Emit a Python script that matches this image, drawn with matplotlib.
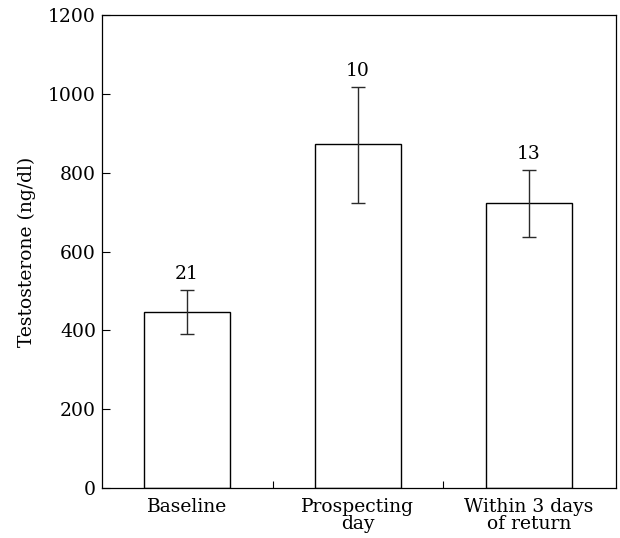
import matplotlib
matplotlib.use("Agg")
import matplotlib.pyplot as plt
from matplotlib.ticker import FixedLocator

categories = ["Baseline", "Prospecting\nday", "Within 3 days\nof return"]
means = [447, 873, 723]
err_upper = [502, 1018, 808]
err_lower = [391, 724, 638]
sample_sizes = ["21", "10", "13"]
yticks = [0, 200, 400, 600, 800, 1000, 1200]

plt.rcParams["font.family"] = ["DejaVu Serif"]
plt.rcParams["font.size"] = 13.5

fig = plt.figure(figsize=(6.2, 5.38), dpi=100)
ax = fig.add_axes([0.164, 0.093, 0.8295, 0.8787])

x = list(range(len(categories)))
yerr = [[m - lo for m, lo in zip(means, err_lower)],
        [hi - m for m, hi in zip(means, err_upper)]]
ax.bar(x, means, width=0.5, color="white", edgecolor="black", linewidth=1.0, zorder=2)
ax.errorbar(x, means, yerr=yerr, fmt="none", ecolor="#2a2a2a", elinewidth=1.0,
            capsize=5, capthick=1.0, zorder=3)
for xi, hi, s in zip(x, err_upper, sample_sizes):
    ax.annotate(s, (xi, hi), xytext=(0, 5), textcoords="offset points",
                ha="center", va="bottom", fontsize=13.5)

ax.set_xlim(-0.5, 2.51)
ax.set_ylim(0, 1200)
ax.set_yticks(yticks)
ax.set_xticks(x)
ax.set_xticklabels(categories, linespacing=0.92)
ax.xaxis.set_minor_locator(FixedLocator([0.5, 1.5]))
ax.tick_params(axis="x", which="major", length=0, pad=7)
ax.tick_params(axis="x", which="minor", direction="in", length=5, width=0.8)
ax.tick_params(axis="y", direction="in", length=6, width=0.8, pad=4)
for sp in ax.spines.values():
    sp.set_linewidth(0.9)
ax.set_ylabel("Testosterone (ng/dl)", labelpad=9)

fig.savefig("out.png", dpi=100)
